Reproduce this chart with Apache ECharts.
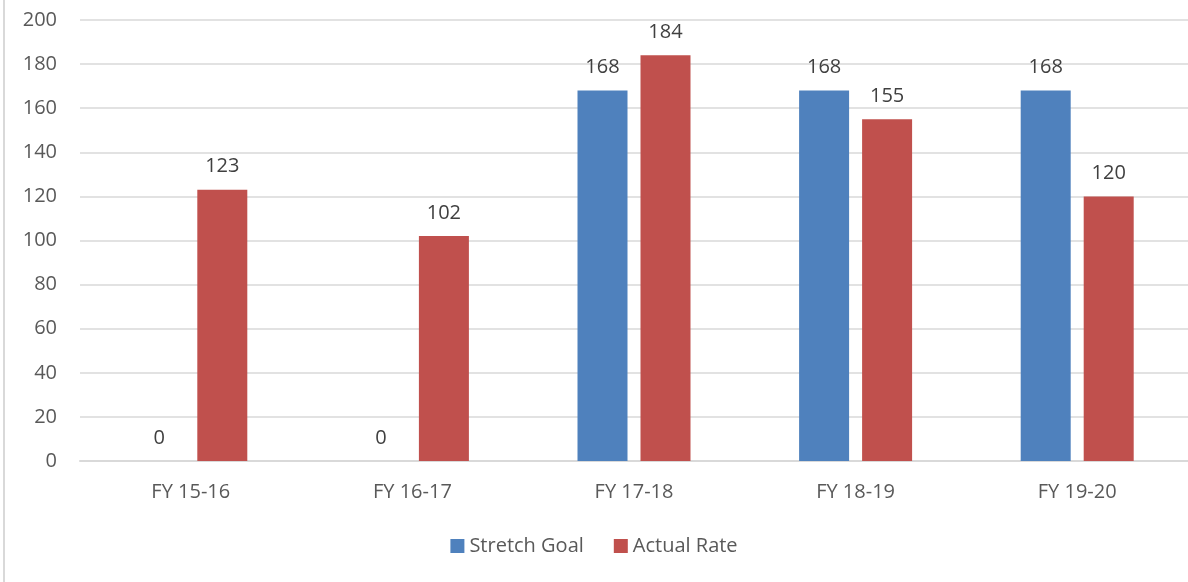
<!DOCTYPE html>
<html><head><meta charset="utf-8">
<script src="https://cdn.jsdelivr.net/npm/echarts@6/dist/echarts.min.js"></script>
<style>html,body{margin:0;padding:0;background:#fff}#c{width:1188px;height:582px}</style>
</head><body><div id="c"></div>
<script>
const categories = ['FY 15-16','FY 16-17','FY 17-18','FY 18-19','FY 19-20'];
const stretchGoal = [0, 0, 168, 168, 168];
const actualRate = [123, 102, 184, 155, 120];
const seriesNames = ['Stretch Goal','Actual Rate'];

const font = "'Open Sans', 'Noto Sans', sans-serif";
const chart = echarts.init(document.getElementById('c'), null, {renderer:'canvas'});
chart.setOption({
  animation:false,
  textStyle:{fontFamily:font},
  graphic:[{type:'line',shape:{x1:4,y1:0,x2:4,y2:582},style:{stroke:'#d9d9d9',lineWidth:2}}],
  grid:{left:80,right:0,top:20,bottom:121},
  legend:{bottom:21,left:'center',itemWidth:14,itemHeight:14,itemGap:30,itemTextGap:6,icon:'rect',
    textStyle:{fontFamily:font,fontSize:20,color:'#595959'},data:seriesNames},
  xAxis:{type:'category',data:categories,
    axisLine:{lineStyle:{color:'#d9d9d9',width:2}},axisTick:{show:false},
    axisLabel:{fontFamily:font,fontSize:20,color:'#595959',margin:21}},
  yAxis:{type:'value',min:0,max:200,interval:20,
    axisLine:{show:false},axisTick:{show:false},
    splitLine:{lineStyle:{color:'#d9d9d9',width:1.5}},
    axisLabel:{fontFamily:font,fontSize:20,color:'#595959',margin:23}},
  series:[
    {name:seriesNames[0],type:'bar',data:stretchGoal,barWidth:50,barGap:'26%',
     itemStyle:{color:'#4f81bd'},
     label:{show:true,position:'top',distance:13,fontFamily:font,fontSize:20,color:'#404040'}},
    {name:seriesNames[1],type:'bar',data:actualRate,barWidth:50,
     itemStyle:{color:'#c0504d'},
     label:{show:true,position:'top',distance:13,fontFamily:font,fontSize:20,color:'#404040'}}
  ]
});
</script></body></html>
